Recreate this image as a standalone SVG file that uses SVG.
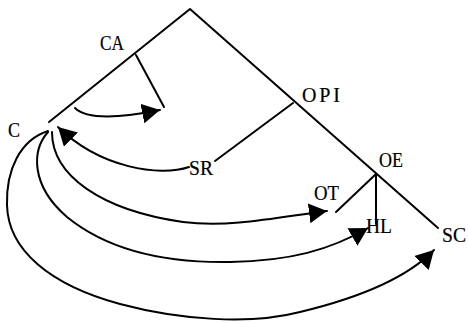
<svg xmlns="http://www.w3.org/2000/svg" width="468" height="323" viewBox="0 0 468 323">
<style>
.ln{fill:none;stroke:#000;stroke-width:2;stroke-linecap:round;stroke-linejoin:round}
.ar{fill:none;stroke:#000;stroke-width:2;stroke-linecap:round;marker-end:url(#ah)}
.lb{font-family:"Liberation Serif","DejaVu Serif",serif;font-size:20px;fill:#000;stroke:#000;stroke-width:0.2}
</style>
<defs>
<marker id="ah" markerUnits="userSpaceOnUse" markerWidth="20" markerHeight="20" refX="18" refY="10" orient="auto">
<path d="M0,0 L18,10 L0,20 Z" fill="#000"/>
</marker>
</defs>
<rect width="468" height="323" fill="#fff"/>
<g id="frame">
<path class="ln" d="M49,122 L190,9 L438,228"/>
</g>
<g id="connectors">
<path class="ln" d="M136,55 L164,107"/>
<path class="ln" d="M215,161 L293,103"/>
<path class="ln" d="M376,174 L336,212"/>
<path class="ln" d="M376,174 L376,224"/>
<path class="ar" d="M75,108 C85,118 110,120 160,110"/>
<path class="ar" d="M189,167 C160,177 100,168 58,127"/>
<path class="ar" d="M52,132 C52,175 100,210 183,222 C230,228 280,217 327,211"/>
<path class="ar" d="M48,132 C32,150 30,185 67,217 C110,252 170,263 230,262 C290,261 330,250 368,228"/>
<path class="ar" d="M48,131 C20,140 6,170 7,205 C8,250 50,285 120,304 C180,320 250,325 300,312 C350,300 405,280 434,250"/>
</g>
<g id="node-CA"><text class="lb" x="100" y="50" textLength="24" lengthAdjust="spacingAndGlyphs">CA</text></g>
<g id="node-C"><text class="lb" x="8" y="137" textLength="12" lengthAdjust="spacingAndGlyphs">C</text></g>
<g id="node-OPI"><text class="lb" x="302" y="102" textLength="38" lengthAdjust="spacing">OPI</text></g>
<g id="node-SR"><text class="lb" x="189" y="175" textLength="24" lengthAdjust="spacingAndGlyphs">SR</text></g>
<g id="node-OE"><text class="lb" x="379" y="167" textLength="24" lengthAdjust="spacingAndGlyphs">OE</text></g>
<g id="node-OT"><text class="lb" x="314" y="200" textLength="25" lengthAdjust="spacingAndGlyphs">OT</text></g>
<g id="node-HL"><text class="lb" x="366" y="233" textLength="26" lengthAdjust="spacingAndGlyphs">HL</text></g>
<g id="node-SC"><text class="lb" x="442" y="242" textLength="24" lengthAdjust="spacingAndGlyphs">SC</text></g>
</svg>
